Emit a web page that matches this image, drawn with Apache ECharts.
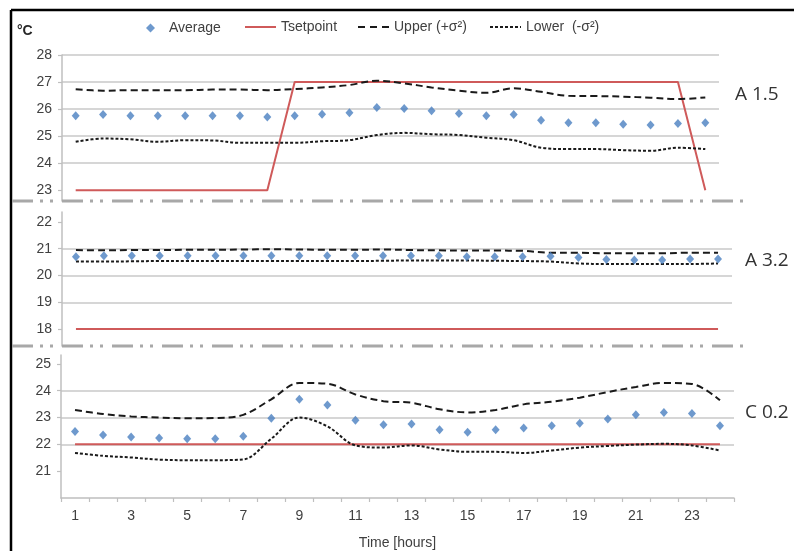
<!DOCTYPE html>
<html><head><meta charset="utf-8">
<script src="https://cdn.jsdelivr.net/npm/echarts@6/dist/echarts.min.js"></script>
<style>html,body{margin:0;padding:0;background:#fff}#c{width:794px;height:551px}</style>
</head><body><div id="c"></div><script>
// ---- data ----
const hours = [1,2,3,4,5,6,7,8,9,10,11,12,13,14,15,16,17,18,19,20,21,22,23,24];

const topTicks = [23,24,25,26,27,28];
const midTicks = [18,19,20,21,22];
const botTicks = [21,22,23,24,25];

const a15Average = [25.75,25.80,25.75,25.75,25.75,25.75,25.75,25.71,25.75,25.81,25.86,26.06,26.02,25.94,25.84,25.75,25.80,25.59,25.49,25.49,25.44,25.41,25.47,25.49];
const a15Setpoint = [23,23,23,23,23,23,23,23,27,27,27,27,27,27,27,27,27,27,27,27,27,27,27,23];
const a15Upper = [26.73,26.68,26.70,26.70,26.70,26.72,26.72,26.70,26.74,26.80,26.89,27.05,26.95,26.80,26.68,26.60,26.77,26.64,26.49,26.48,26.46,26.42,26.37,26.43];
const a15Lower = [24.79,24.91,24.88,24.79,24.85,24.84,24.75,24.75,24.75,24.81,24.85,25.04,25.12,25.07,25.04,24.94,24.85,24.57,24.52,24.52,24.48,24.46,24.57,24.52];

const a32Average = [20.70,20.74,20.74,20.74,20.74,20.74,20.74,20.74,20.74,20.74,20.74,20.74,20.74,20.74,20.70,20.70,20.70,20.72,20.67,20.60,20.58,20.58,20.62,20.62];
const a32Setpoint = [18,18,18,18,18,18,18,18,18,18,18,18,18,18,18,18,18,18,18,18,18,18,18,18];
const a32Upper = [20.95,20.94,20.95,20.95,20.96,20.96,20.97,20.98,20.97,20.96,20.96,20.97,20.95,20.94,20.93,20.93,20.92,20.85,20.85,20.83,20.83,20.83,20.85,20.85];
const a32Lower = [20.52,20.52,20.53,20.54,20.54,20.54,20.54,20.54,20.54,20.54,20.54,20.55,20.56,20.56,20.56,20.55,20.54,20.52,20.45,20.43,20.43,20.43,20.43,20.45];

const c02Average = [22.48,22.35,22.27,22.24,22.21,22.21,22.30,22.97,23.68,23.47,22.90,22.73,22.76,22.54,22.45,22.54,22.61,22.69,22.79,22.94,23.10,23.19,23.15,22.69];
const c02Setpoint = [22,22,22,22,22,22,22,22,22,22,22,22,22,22,22,22,22,22,22,22,22,22,22,22];
const c02Upper = [23.28,23.13,23.04,23.00,22.97,22.98,23.10,23.68,24.29,24.26,23.86,23.61,23.55,23.31,23.19,23.28,23.49,23.59,23.74,23.95,24.14,24.29,24.25,23.64];
const c02Lower = [21.68,21.57,21.51,21.43,21.41,21.41,21.44,22.21,23.00,22.67,21.96,21.88,21.96,21.81,21.72,21.72,21.68,21.77,21.88,21.94,21.99,22.02,21.96,21.77];

// ---- styles ----
const FONT = 'Liberation Sans, Arial, sans-serif';
const TXT = '#404040';
const AXIS = '#bfbfbf';
const GRIDC = '#c9c9c9';
const BLUE = '#4a7fc1';
const RED = '#cf5a5a';
const BLACK = '#1a1a1a';

function yAx(gi, min, max, ticks, showMax) {
  return {
    type: 'value', gridIndex: gi, min: min, max: max, splitNumber: 5,
    axisLine: {show: true, lineStyle: {color: AXIS, width: 1.5}},
    axisTick: {show: true, length: 4, lineStyle: {color: AXIS, width: 1.2}, customValues: ticks},
    axisLabel: {customValues: ticks, color: TXT, fontSize: 14, fontFamily: FONT, margin: 10,
      formatter: function (v) { return ticks.indexOf(Math.round(v * 100) / 100) >= 0 ? String(v) : ''; }},
    splitLine: {show: true, showMinLine: false, showMaxLine: showMax, lineStyle: {color: GRIDC, width: 1.5}}
  };
}
function xAx(gi, show) {
  const ax = {type: 'category', gridIndex: gi, data: hours, boundaryGap: true, show: show};
  if (show) {
    Object.assign(ax, {
      axisLine: {show: true, lineStyle: {color: AXIS, width: 1.5}},
      axisTick: {show: true, interval: 0, length: 4, lineStyle: {color: AXIS, width: 1.2}},
      axisLabel: {interval: 1, color: TXT, fontSize: 14, fontFamily: FONT, margin: 11},
      splitLine: {show: false},
      name: 'Time [hours]', nameLocation: 'middle', nameGap: 38,
      nameTextStyle: {color: TXT, fontSize: 14, fontFamily: FONT}
    });
  }
  return ax;
}
function panel(gi, avg, setp, up, low) {
  return [
    {name: 'Average', type: 'scatter', xAxisIndex: gi, yAxisIndex: gi, data: avg,
     symbol: 'diamond', symbolSize: [8, 9], itemStyle: {color: BLUE}, z: 5},
    {name: 'Tsetpoint', type: 'line', xAxisIndex: gi, yAxisIndex: gi, data: setp,
     symbol: 'none', lineStyle: {color: RED, width: 2}, itemStyle: {color: RED}, z: 3},
    {name: 'Upper (+σ²)', type: 'line', xAxisIndex: gi, yAxisIndex: gi, data: up,
     symbol: 'none', smooth: 0.35, lineStyle: {color: BLACK, width: 2, type: [7, 4]}, itemStyle: {color: BLACK}, z: 4},
    {name: 'Lower  (-σ²)', type: 'line', xAxisIndex: gi, yAxisIndex: gi, data: low,
     symbol: 'none', smooth: 0.35, lineStyle: {color: BLACK, width: 2, type: [3, 2]}, itemStyle: {color: BLACK}, z: 4}
  ];
}
function leg(name, icon, left, top, w, h, padLeft) {
  return {data: [{name: name, icon: icon}], left: left, top: top, itemWidth: w, itemHeight: h, padding: 0,
    selectedMode: false, itemStyle: {borderWidth: 0},
    textStyle: {color: TXT, fontSize: 14, fontFamily: FONT, padding: [0, 0, 0, padLeft]}};
}

const sepDash = [21, 7, 3, 7, 3, 9];
const chart = echarts.init(document.getElementById('c'), null, {renderer: 'canvas'});
chart.setOption({
  animation: false,
  backgroundColor: '#ffffff',
  grid: [
    {left: 62, width: 657, top: 55, height: 146, containLabel: false, outerBoundsMode: 'none'},
    {left: 62, width: 670, top: 212, height: 134, containLabel: false, outerBoundsMode: 'none'},
    {left: 61, width: 673, top: 355, height: 143, containLabel: false, outerBoundsMode: 'none'}
  ],
  xAxis: [xAx(0, false), xAx(1, false), xAx(2, true)],
  yAxis: [yAx(0, 22.6, 28, topTicks, true), yAx(1, 17.37, 22.37, midTicks, false), yAx(2, 20, 25.33, botTicks, false)],
  legend: [
    leg('Average', 'diamond', 146, 21, 9, 9, 9),
    leg('Tsetpoint', 'path://M0,0h31v2h-31z', 245, 20, 31, 2, 0),
    leg('Upper (+σ²)', 'path://M0,0h7v2h-7z M12,0h7v2h-7z M24,0h7v2h-7z', 358, 20, 31, 2, 0),
    leg('Lower  (-σ²)', 'path://M0,0h3v2h-3z M5,0h3v2h-3z M10,0h3v2h-3z M15,0h3v2h-3z M20,0h3v2h-3z M25,0h3v2h-3z M30,0h1v2h-1z', 490, 20, 31, 2, 0)
  ],
  series: [].concat(
    panel(0, a15Average, a15Setpoint, a15Upper, a15Lower),
    panel(1, a32Average, a32Setpoint, a32Upper, a32Lower),
    panel(2, c02Average, c02Setpoint, c02Upper, c02Lower)
  ),
  graphic: [
    {type: 'line', shape: {x1: 11, y1: 10, x2: 794, y2: 10}, style: {stroke: '#000', lineWidth: 2.5}},
    {type: 'line', shape: {x1: 11, y1: 10, x2: 11, y2: 551}, style: {stroke: '#000', lineWidth: 2.5}},
    {type: 'line', shape: {x1: 12, y1: 201, x2: 747, y2: 201}, style: {stroke: '#a8a8a8', lineWidth: 3, lineDash: sepDash}, z: 10},
    {type: 'line', shape: {x1: 12, y1: 346, x2: 747, y2: 346}, style: {stroke: '#a8a8a8', lineWidth: 3, lineDash: sepDash}, z: 10},
    {type: 'text', left: 17, top: 24, style: {text: '°C', fill: '#262626', font: 'bold 14px ' + FONT}},
    {type: 'text', left: 735, top: 85, style: {text: 'A 1.5', fill: '#333', font: '19px Open Sans'}},
    {type: 'text', left: 745, top: 251, style: {text: 'A 3.2', fill: '#333', font: '19px Open Sans'}},
    {type: 'text', left: 745, top: 403, style: {text: 'C 0.2', fill: '#333', font: '19px Open Sans'}}
  ]
});
</script></body></html>
